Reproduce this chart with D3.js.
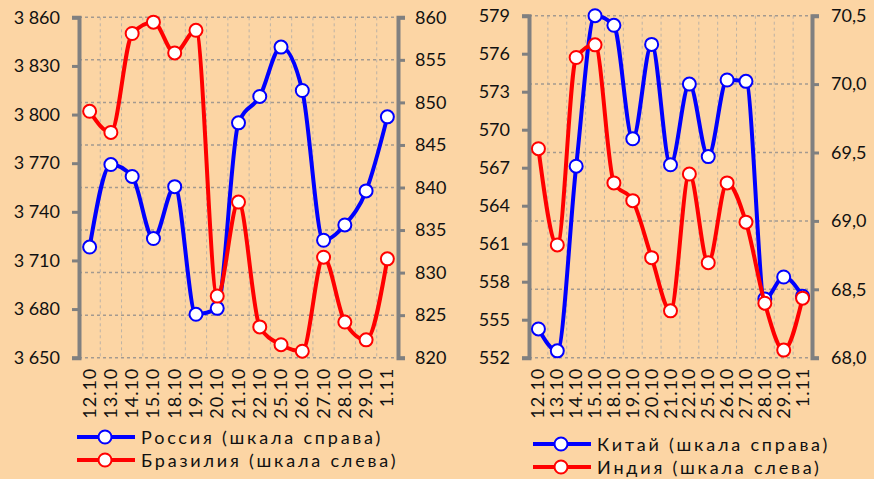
<!DOCTYPE html>
<html>
<head>
<meta charset="utf-8">
<script src="https://cdn.jsdelivr.net/npm/d3@7"></script>
<style>
  body { margin: 0; background: #FCD5A4; }
  svg { display: block; font-family: Lato, "Open Sans", sans-serif; }
</style>
</head>
<body>
<svg id="chart" width="874" height="479"></svg>
<script>
const dates = ["12.10", "13.10", "14.10", "15.10", "18.10", "19.10", "20.10", "21.10",
               "22.10", "25.10", "26.10", "27.10", "28.10", "29.10", "1.11"];

// left panel
const russia = [833.0, 842.7, 841.3, 834.0, 840.1, 825.1, 825.8, 847.6,
                850.7, 856.5, 851.4, 833.8, 835.6, 839.6, 848.3];
const brazil = [3802, 3789, 3850, 3857, 3838, 3852, 3688, 3746,
                3669, 3658, 3654, 3712, 3672, 3661, 3711];
const brazilTicks = [3650, 3680, 3710, 3740, 3770, 3800, 3830, 3860];
const russiaTicks = [820, 825, 830, 835, 840, 845, 850, 855, 860];

// right panel
const china = [68.21, 68.05, 69.40, 70.50, 70.43, 69.60, 70.29, 69.41,
               70.00, 69.47, 70.03, 70.02, 68.43, 68.59, 68.45];
const india = [568.5, 560.9, 575.7, 576.7, 565.8, 564.4, 559.9, 555.7,
               566.5, 559.5, 565.8, 562.7, 556.3, 552.6, 556.7];
const indiaTicks = [552, 555, 558, 561, 564, 567, 570, 573, 576, 579];
const chinaTicks = [68.0, 68.5, 69.0, 69.5, 70.0, 70.5];

const ru = d3.formatLocale({decimal: ",", thousands: " ", grouping: [3], currency: ["", ""]});

const svg = d3.select("#chart");
svg.append("rect").attr("width", 874).attr("height", 479).attr("fill", "#FCD5A4");

function panel(o) {
  const g = svg.append("g");
  const x = d3.scaleBand().domain(dates).range([o.x0, o.x1]);
  const yL = d3.scaleLinear().domain(d3.extent(o.leftTicks)).range([o.y1, o.y0]);
  const yR = d3.scaleLinear().domain(d3.extent(o.rightTicks)).range([o.y1, o.y0]);

  // vertical grid at category boundaries
  g.append("g").selectAll("line")
    .data(dates.slice(1))
    .join("line")
      .attr("x1", d => x(d)).attr("x2", d => x(d))
      .attr("y1", o.y0).attr("y2", o.y1)
      .attr("stroke", "#bdb3a6").attr("stroke-width", 1)
      .attr("stroke-dasharray", "3,3");

  // horizontal grid follows right axis ticks
  g.append("g").selectAll("line")
    .data(o.rightTicks)
    .join("line")
      .attr("x1", o.x0).attr("x2", o.x1)
      .attr("y1", d => yR(d)).attr("y2", d => yR(d))
      .attr("stroke", "#a39a90").attr("stroke-width", 1.5)
      .attr("stroke-dasharray", "3,3");

  const axL = g.append("g")
    .attr("transform", `translate(${o.x0},0)`)
    .call(d3.axisLeft(yL).tickValues(o.leftTicks).tickSize(7).tickPadding(o.padL).tickFormat(o.fmtL));
  const axR = g.append("g")
    .attr("transform", `translate(${o.x1},0)`)
    .call(d3.axisRight(yR).tickValues(o.rightTicks).tickSize(7).tickPadding(o.padR).tickFormat(o.fmtR));
  [axL, axR].forEach(a => {
    a.select(".domain").attr("stroke", "#808080").attr("stroke-width", 4);
    a.selectAll(".tick line").attr("stroke", "#808080").attr("stroke-width", 3);
    a.selectAll("text").attr("fill", "#111").style("font-size", "18px").style("font-family", "Lato");
  });

  // x labels
  g.append("g").selectAll("text")
    .data(dates)
    .join("text")
      .attr("transform", d => `translate(${x(d) + x.bandwidth() / 2 + 6},${o.y1 + 10}) rotate(-90)`)
      .attr("text-anchor", "end")
      .style("font-size", "18px")
      .style("letter-spacing", "1px")
      .attr("fill", "#111")
      .text(d => d);

  const cx = d => x(d) + x.bandwidth() / 2;
  const series = [
    {vals: o.blue, y: yR, color: "#0000FF"},
    {vals: o.red, y: yL, color: "#FF0000"}
  ];
  series.forEach(s => {
    const pts = dates.map((d, i) => [cx(d), s.y(s.vals[i])]);
    g.append("path")
      .attr("d", d3.line().curve(d3.curveMonotoneX)(pts))
      .attr("fill", "none").attr("stroke", s.color).attr("stroke-width", 4);
    g.append("g").selectAll("circle")
      .data(pts)
      .join("circle")
        .attr("cx", d => d[0]).attr("cy", d => d[1]).attr("r", 6.5)
        .attr("fill", "#fff").attr("stroke", s.color).attr("stroke-width", 2);
  });

  // legend
  const lg = g.append("g");
  o.legend.forEach((l, i) => {
    const yy = o.legY + i * 23;
    lg.append("line").attr("x1", o.legX).attr("x2", o.legX + 58)
      .attr("y1", yy).attr("y2", yy).attr("stroke", l.color).attr("stroke-width", 4);
    lg.append("circle").attr("cx", o.legX + 28).attr("cy", yy).attr("r", 6.5)
      .attr("fill", "#fff").attr("stroke", l.color).attr("stroke-width", 2);
    lg.append("text").attr("x", o.legX + 64).attr("y", yy + 7)
      .style("font-size", "18px").style("letter-spacing", "2.8px").attr("fill", "#111")
      .text(l.name);
  });
}

panel({
  x0: 79, x1: 398, y0: 17.3, y1: 357.7,
  leftTicks: brazilTicks, rightTicks: russiaTicks,
  fmtL: ru.format(",d"), fmtR: ru.format("d"),
  padL: 12, padR: 10,
  blue: russia, red: brazil,
  legX: 77, legY: 437,
  legend: [{name: "Россия (шкала справа)", color: "#0000FF"},
           {name: "Бразилия (шкала слева)", color: "#FF0000"}]
});

panel({
  x0: 529, x1: 812, y0: 15.7, y1: 357.7,
  leftTicks: indiaTicks, rightTicks: chinaTicks,
  fmtL: ru.format("d"), fmtR: ru.format(".1f"),
  padL: 12, padR: 12,
  blue: china, red: india,
  legX: 533, legY: 444,
  legend: [{name: "Китай (шкала справа)", color: "#0000FF"},
           {name: "Индия (шкала слева)", color: "#FF0000"}]
});
</script>
</body>
</html>
